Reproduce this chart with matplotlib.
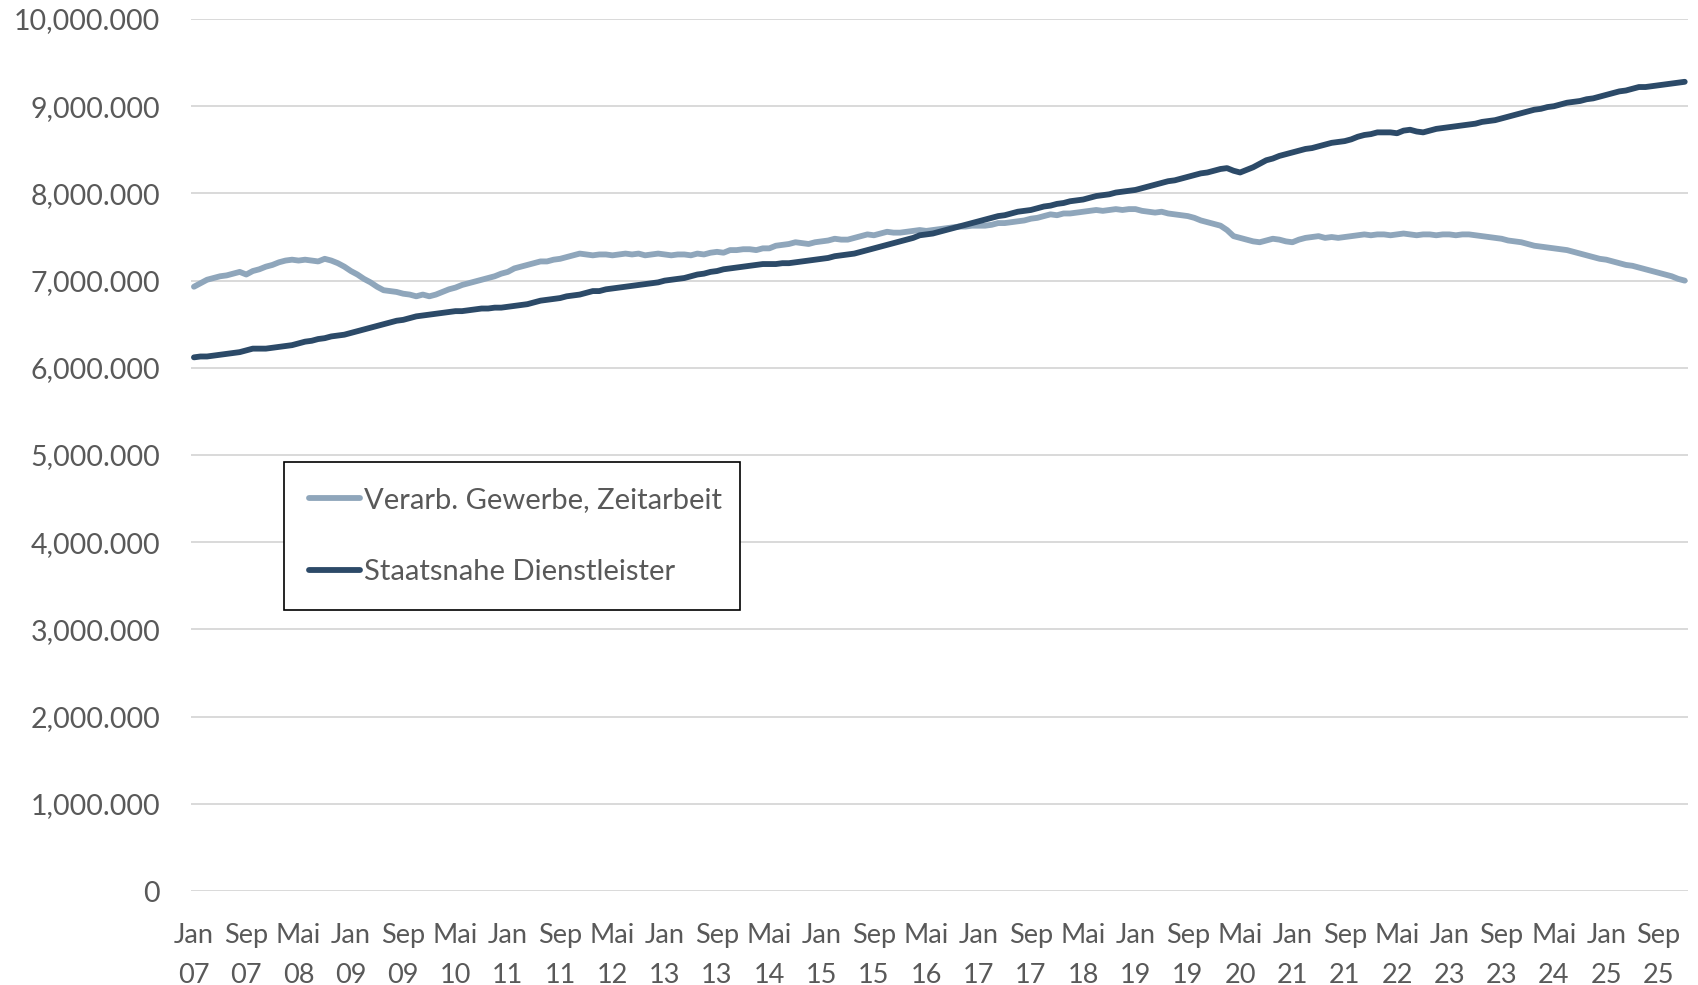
import numpy as np
import pandas as pd
import matplotlib.pyplot as plt
from matplotlib.ticker import FuncFormatter

# Beschaeftigte (Mio.), monatlich Jan 2007 - Jan 2026
verarb_gewerbe = [
    6.93, 6.97, 7.01, 7.03, 7.05, 7.06, 7.08, 7.10, 7.07, 7.11, 7.13, 7.16,  # 2007
    7.18, 7.21, 7.23, 7.24, 7.23, 7.24, 7.23, 7.22, 7.25, 7.23, 7.20, 7.16,  # 2008
    7.11, 7.07, 7.02, 6.98, 6.93, 6.89, 6.88, 6.87, 6.85, 6.84, 6.82, 6.84,  # 2009
    6.82, 6.84, 6.87, 6.90, 6.92, 6.95, 6.97, 6.99, 7.01, 7.03, 7.05, 7.08,  # 2010
    7.10, 7.14, 7.16, 7.18, 7.20, 7.22, 7.22, 7.24, 7.25, 7.27, 7.29, 7.31,  # 2011
    7.30, 7.29, 7.30, 7.30, 7.29, 7.30, 7.31, 7.30, 7.31, 7.29, 7.30, 7.31,  # 2012
    7.30, 7.29, 7.30, 7.30, 7.29, 7.31, 7.30, 7.32, 7.33, 7.32, 7.35, 7.35,  # 2013
    7.36, 7.36, 7.35, 7.37, 7.37, 7.40, 7.41, 7.42, 7.44, 7.43, 7.42, 7.44,  # 2014
    7.45, 7.46, 7.48, 7.47, 7.47, 7.49, 7.51, 7.53, 7.52, 7.54, 7.56, 7.55,  # 2015
    7.55, 7.56, 7.57, 7.58, 7.57, 7.58, 7.59, 7.60, 7.61, 7.62, 7.62, 7.63,  # 2016
    7.63, 7.63, 7.64, 7.66, 7.66, 7.67, 7.68, 7.69, 7.71, 7.72, 7.74, 7.76,  # 2017
    7.75, 7.77, 7.77, 7.78, 7.79, 7.80, 7.81, 7.80, 7.81, 7.82, 7.81, 7.82,  # 2018
    7.82, 7.80, 7.79, 7.78, 7.79, 7.77, 7.76, 7.75, 7.74, 7.72, 7.69, 7.67,  # 2019
    7.65, 7.63, 7.58, 7.51, 7.49, 7.47, 7.45, 7.44, 7.46, 7.48, 7.47, 7.45,  # 2020
    7.44, 7.47, 7.49, 7.50, 7.51, 7.49, 7.50, 7.49, 7.50, 7.51, 7.52, 7.53,  # 2021
    7.52, 7.53, 7.53, 7.52, 7.53, 7.54, 7.53, 7.52, 7.53, 7.53, 7.52, 7.53,  # 2022
    7.53, 7.52, 7.53, 7.53, 7.52, 7.51, 7.50, 7.49, 7.48, 7.46, 7.45, 7.44,  # 2023
    7.42, 7.40, 7.39, 7.38, 7.37, 7.36, 7.35, 7.33, 7.31, 7.29, 7.27, 7.25,  # 2024
    7.24, 7.22, 7.20, 7.18, 7.17, 7.15, 7.13, 7.11, 7.09, 7.07, 7.05, 7.02,  # 2025
    7.00,                                                                    # 2026
]

staatsnahe_dl = [
    6.12, 6.13, 6.13, 6.14, 6.15, 6.16, 6.17, 6.18, 6.20, 6.22, 6.22, 6.22,  # 2007
    6.23, 6.24, 6.25, 6.26, 6.28, 6.30, 6.31, 6.33, 6.34, 6.36, 6.37, 6.38,  # 2008
    6.40, 6.42, 6.44, 6.46, 6.48, 6.50, 6.52, 6.54, 6.55, 6.57, 6.59, 6.60,  # 2009
    6.61, 6.62, 6.63, 6.64, 6.65, 6.65, 6.66, 6.67, 6.68, 6.68, 6.69, 6.69,  # 2010
    6.70, 6.71, 6.72, 6.73, 6.75, 6.77, 6.78, 6.79, 6.80, 6.82, 6.83, 6.84,  # 2011
    6.86, 6.88, 6.88, 6.90, 6.91, 6.92, 6.93, 6.94, 6.95, 6.96, 6.97, 6.98,  # 2012
    7.00, 7.01, 7.02, 7.03, 7.05, 7.07, 7.08, 7.10, 7.11, 7.13, 7.14, 7.15,  # 2013
    7.16, 7.17, 7.18, 7.19, 7.19, 7.19, 7.20, 7.20, 7.21, 7.22, 7.23, 7.24,  # 2014
    7.25, 7.26, 7.28, 7.29, 7.30, 7.31, 7.33, 7.35, 7.37, 7.39, 7.41, 7.43,  # 2015
    7.45, 7.47, 7.49, 7.52, 7.53, 7.54, 7.56, 7.58, 7.60, 7.62, 7.64, 7.66,  # 2016
    7.68, 7.70, 7.72, 7.74, 7.75, 7.77, 7.79, 7.80, 7.81, 7.83, 7.85, 7.86,  # 2017
    7.88, 7.89, 7.91, 7.92, 7.93, 7.95, 7.97, 7.98, 7.99, 8.01, 8.02, 8.03,  # 2018
    8.04, 8.06, 8.08, 8.10, 8.12, 8.14, 8.15, 8.17, 8.19, 8.21, 8.23, 8.24,  # 2019
    8.26, 8.28, 8.29, 8.26, 8.24, 8.27, 8.30, 8.34, 8.38, 8.40, 8.43, 8.45,  # 2020
    8.47, 8.49, 8.51, 8.52, 8.54, 8.56, 8.58, 8.59, 8.60, 8.62, 8.65, 8.67,  # 2021
    8.68, 8.70, 8.70, 8.70, 8.69, 8.72, 8.73, 8.71, 8.70, 8.72, 8.74, 8.75,  # 2022
    8.76, 8.77, 8.78, 8.79, 8.80, 8.82, 8.83, 8.84, 8.86, 8.88, 8.90, 8.92,  # 2023
    8.94, 8.96, 8.97, 8.99, 9.00, 9.02, 9.04, 9.05, 9.06, 9.08, 9.09, 9.11,  # 2024
    9.13, 9.15, 9.17, 9.18, 9.20, 9.22, 9.22, 9.23, 9.24, 9.25, 9.26, 9.27,  # 2025
    9.28,                                                                    # 2026
]

monate_de = ['Jan', 'Feb', 'Mär', 'Apr', 'Mai', 'Jun',
             'Jul', 'Aug', 'Sep', 'Okt', 'Nov', 'Dez']
label_step = 8

text_color = '#595959'
color_light = '#8fa6bb'
color_dark = '#2c4a68'

# Kategorien (Monate)
dates = pd.date_range('2007-01-01', periods=len(verarb_gewerbe), freq='MS')
x = np.arange(len(dates))
tick_pos = x[::label_step]
tick_labels = [f"{monate_de[d.month - 1]}\n{d.year % 100:02d}" for d in dates[::label_step]]

fig = plt.figure(figsize=(16.98, 9.85), dpi=100)
ax = fig.add_axes([0.1123, 0.0954, 0.8818, 0.8853])

ax.plot(x, np.array(verarb_gewerbe) * 1e6, color=color_light, lw=4.2,
        solid_capstyle='round', label='Verarb. Gewerbe, Zeitarbeit')
ax.plot(x, np.array(staatsnahe_dl) * 1e6, color=color_dark, lw=4.2,
        solid_capstyle='round', label='Staatsnahe Dienstleister')

ax.set_xlim(-0.5, len(x) - 0.5)
ax.set_ylim(0, 10e6)
ax.set_yticks(np.arange(0, 10e6 + 1, 1e6))

def fmt_y(v, pos):
    if v == 0:
        return '0'
    return f"{int(round(v / 1000)):,}.000"

ax.yaxis.set_major_formatter(FuncFormatter(fmt_y))
ax.set_xticks(tick_pos)
ax.set_xticklabels(tick_labels, family='Lato', fontsize=19.5,
                   color=text_color, linespacing=1.75)
for lab in ax.get_yticklabels():
    lab.set_family('Lato')
    lab.set_fontsize(20.5)
    lab.set_color(text_color)

ax.tick_params(axis='both', length=0)
ax.tick_params(axis='y', pad=22)
ax.tick_params(axis='x', pad=23)

# Gitter
ax.grid(axis='y', color='#d9d9d9', lw=1.4)
ax.set_axisbelow(True)
for s in ax.spines.values():
    s.set_visible(False)

leg = ax.legend(loc='upper left', bbox_to_anchor=(0.0623, 0.3245, 0.3046, 0.1675),
                mode='expand', borderaxespad=0, fancybox=False, framealpha=1,
                edgecolor='black', handlelength=1.75, handletextpad=0.15,
                borderpad=0.85, labelspacing=1.6,
                prop={'family': 'Lato', 'size': 21})
leg.get_frame().set_linewidth(1.2)
for t in leg.get_texts():
    t.set_color(text_color)

plt.savefig('out.png', dpi=100)
